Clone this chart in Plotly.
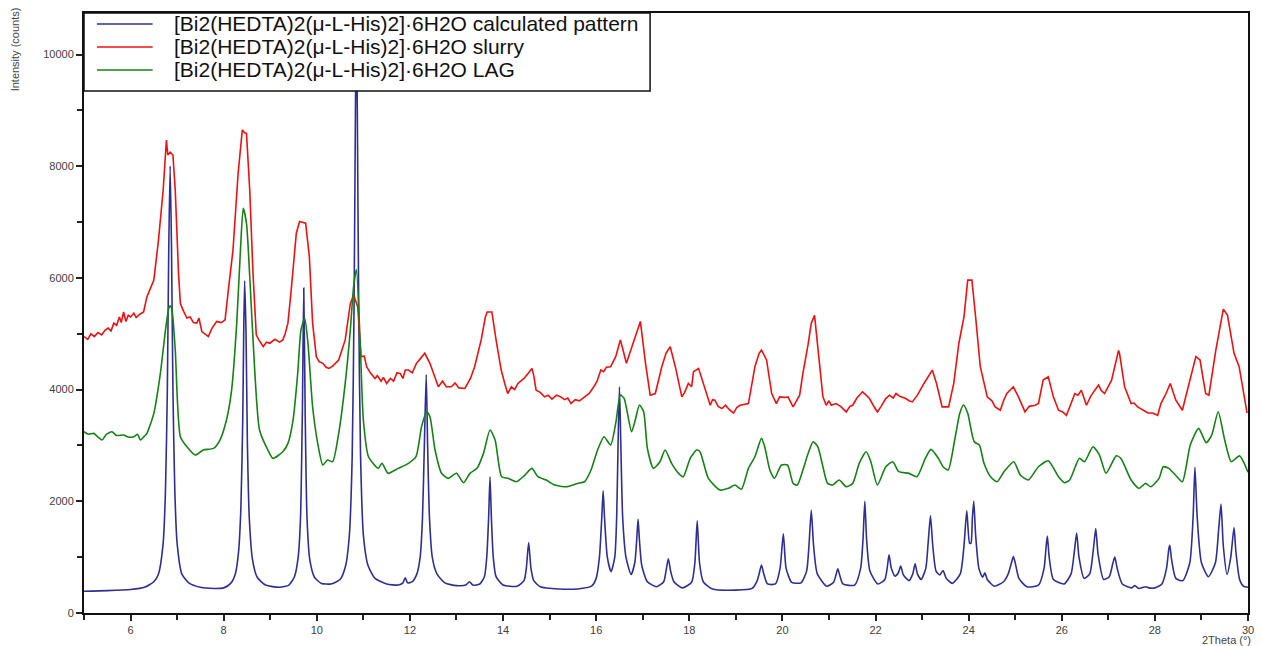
import plotly.graph_objects as go

# ---- data (2Theta in degrees, intensity in counts) ----
calc_pts = [
    (5.0, 390), (5.5, 400), (6.0, 420), (6.3, 460), (6.5, 560), (6.6, 700), (6.7, 1250), (6.75, 2200),
    (6.79, 4000), (6.82, 6500), (6.85, 8000), (6.88, 6500), (6.91, 4000), (6.95, 2200), (7.0, 1250),
    (7.1, 700), (7.25, 540), (7.5, 460), (7.8, 440), (8.0, 450), (8.15, 530), (8.25, 700), (8.32, 1100),
    (8.37, 1900), (8.41, 3500), (8.43, 5000), (8.45, 5950), (8.48, 5000), (8.51, 3000), (8.55, 1700),
    (8.62, 950), (8.72, 640), (8.9, 500), (9.2, 460), (9.4, 500), (9.52, 650), (9.6, 1000), (9.65, 1700),
    (9.69, 3600), (9.72, 5820), (9.75, 3600), (9.79, 1700), (9.85, 950), (9.95, 640), (10.1, 530),
    (10.3, 520), (10.5, 600), (10.62, 850), (10.7, 1400), (10.76, 2800), (10.8, 5500), (10.83, 9000),
    (10.85, 10600), (10.87, 9000), (10.9, 5500), (10.94, 2800), (11.0, 1400), (11.1, 850), (11.25, 620),
    (11.5, 520), (11.75, 500), (11.85, 540), (11.9, 630), (11.95, 540), (12.05, 560), (12.15, 700),
    (12.22, 1000), (12.27, 1700), (12.31, 3000), (12.35, 4270), (12.38, 3000), (12.42, 1700),
    (12.48, 1000), (12.58, 700), (12.75, 540), (13.0, 490), (13.2, 500), (13.28, 560), (13.35, 500),
    (13.5, 520), (13.6, 650), (13.65, 1000), (13.69, 1700), (13.72, 2440), (13.75, 1700), (13.79, 1000),
    (13.85, 650), (14.0, 500), (14.3, 480), (14.45, 580), (14.5, 800), (14.55, 1260), (14.6, 800),
    (14.66, 580), (14.8, 470), (15.2, 430), (15.6, 430), (15.9, 480), (16.0, 620), (16.07, 1000),
    (16.12, 1700), (16.15, 2190), (16.18, 1700), (16.24, 1000), (16.32, 740), (16.4, 1000), (16.44, 1700),
    (16.47, 3000), (16.5, 4050), (16.53, 3000), (16.57, 1700), (16.64, 1000), (16.75, 690), (16.83, 900),
    (16.87, 1300), (16.9, 1680), (16.93, 1300), (16.98, 850), (17.1, 560), (17.3, 470), (17.45, 560),
    (17.5, 750), (17.55, 970), (17.6, 750), (17.67, 560), (17.85, 450), (18.05, 550), (18.12, 900),
    (18.17, 1650), (18.22, 900), (18.3, 560), (18.5, 430), (19.0, 410), (19.35, 440), (19.45, 560),
    (19.5, 700), (19.55, 860), (19.6, 700), (19.68, 520), (19.85, 520), (19.95, 800), (20.02, 1420),
    (20.08, 800), (20.2, 550), (20.4, 540), (20.52, 750), (20.57, 1200), (20.62, 1840), (20.67, 1200),
    (20.75, 700), (20.95, 480), (21.1, 550), (21.15, 680), (21.19, 790), (21.23, 680), (21.3, 520),
    (21.55, 500), (21.68, 800), (21.73, 1300), (21.77, 2000), (21.81, 1300), (21.88, 750), (22.05, 520),
    (22.2, 600), (22.25, 800), (22.29, 1040), (22.34, 800), (22.42, 660), (22.49, 720), (22.54, 840),
    (22.6, 680), (22.72, 580), (22.8, 700), (22.85, 880), (22.9, 700), (22.98, 600), (23.08, 800),
    (23.13, 1250), (23.18, 1740), (23.23, 1200), (23.3, 750), (23.38, 680), (23.45, 760), (23.52, 620),
    (23.65, 530), (23.82, 700), (23.9, 1200), (23.96, 1830), (24.02, 1250), (24.05, 1250), (24.08, 1700),
    (24.11, 2000), (24.15, 1400), (24.22, 800), (24.3, 640), (24.35, 720), (24.4, 600), (24.55, 480),
    (24.75, 560), (24.85, 700), (24.92, 900), (24.96, 1010), (25.0, 900), (25.08, 620), (25.25, 470),
    (25.5, 500), (25.62, 800), (25.66, 1150), (25.69, 1380), (25.73, 1000), (25.82, 600), (26.05, 520),
    (26.2, 700), (26.27, 1100), (26.32, 1430), (26.37, 1000), (26.48, 620), (26.6, 700), (26.68, 1150),
    (26.73, 1510), (26.78, 1050), (26.9, 600), (27.02, 650), (27.1, 900), (27.14, 1000), (27.19, 800),
    (27.3, 520), (27.5, 450), (27.57, 490), (27.65, 440), (27.8, 470), (27.87, 450), (28.0, 450),
    (28.15, 520), (28.25, 800), (28.3, 1150), (28.32, 1210), (28.36, 950), (28.45, 620), (28.6, 580),
    (28.75, 900), (28.82, 1700), (28.86, 2610), (28.91, 1700), (29.0, 900), (29.15, 650), (29.3, 900),
    (29.37, 1500), (29.42, 1950), (29.47, 1200), (29.55, 690), (29.63, 1000), (29.7, 1530), (29.74, 1100),
    (29.82, 600), (29.9, 480), (30.0, 460),
]

slurry_pts = [
    (5.0, 4950), (5.08, 4900), (5.15, 5000), (5.22, 4950), (5.3, 5020), (5.38, 4980), (5.45, 5060),
    (5.52, 5100), (5.58, 5050), (5.64, 5190), (5.7, 5150), (5.76, 5300), (5.8, 5200), (5.85, 5390),
    (5.9, 5220), (5.95, 5330), (6.0, 5300), (6.07, 5370), (6.12, 5290), (6.2, 5350), (6.28, 5390),
    (6.35, 5660), (6.5, 5960), (6.6, 6680), (6.7, 7570), (6.77, 8470), (6.8, 8200), (6.85, 8250),
    (6.91, 8200), (6.96, 7570), (7.03, 6080), (7.07, 5540), (7.14, 5400), (7.21, 5280), (7.28, 5300),
    (7.35, 5200), (7.42, 5190), (7.47, 5280), (7.53, 5040), (7.6, 5000), (7.67, 4950), (7.75, 5100),
    (7.85, 5220), (7.95, 5200), (8.03, 5250), (8.1, 5780), (8.2, 6500), (8.31, 7870), (8.4, 8650),
    (8.45, 8600), (8.49, 8590), (8.56, 7570), (8.63, 6080), (8.7, 4980), (8.75, 4900), (8.85, 4770),
    (8.92, 4850), (8.99, 4830), (9.1, 4900), (9.2, 4850), (9.27, 4890), (9.32, 5000), (9.38, 5190),
    (9.45, 5780), (9.56, 6800), (9.63, 7010), (9.7, 7000), (9.76, 6980), (9.84, 6380), (9.91, 5190),
    (9.99, 4590), (10.05, 4500), (10.13, 4470), (10.2, 4400), (10.26, 4380), (10.34, 4420), (10.47, 4530),
    (10.61, 4890), (10.72, 5540), (10.79, 5690), (10.83, 5600), (10.88, 5480), (10.95, 4590), (11.02, 4600),
    (11.07, 4410), (11.15, 4300), (11.25, 4200), (11.3, 4250), (11.38, 4150), (11.43, 4220), (11.5, 4110),
    (11.58, 4200), (11.65, 4150), (11.72, 4300), (11.79, 4290), (11.85, 4200), (11.9, 4350), (11.97, 4350),
    (12.05, 4300), (12.14, 4470), (12.22, 4550), (12.32, 4650), (12.43, 4470), (12.52, 4250), (12.61, 4050),
    (12.7, 4150), (12.78, 4050), (12.89, 4050), (12.97, 4120), (13.05, 4030), (13.18, 4020), (13.3, 4200),
    (13.39, 4410), (13.53, 4890), (13.62, 5300), (13.66, 5390), (13.76, 5390), (13.85, 4890), (13.96, 4350),
    (14.04, 4100), (14.1, 3930), (14.18, 4050), (14.25, 4000), (14.32, 4110), (14.45, 4200), (14.55, 4300),
    (14.62, 4380), (14.66, 4250), (14.71, 3990), (14.8, 3950), (14.89, 3870), (14.97, 3900), (15.05, 3830),
    (15.15, 3900), (15.24, 3870), (15.32, 3820), (15.39, 3850), (15.46, 3750), (15.55, 3820), (15.64, 3800),
    (15.74, 3870), (15.85, 3930), (15.95, 4050), (16.02, 4150), (16.1, 4350), (16.16, 4320), (16.22, 4400),
    (16.31, 4410), (16.42, 4590), (16.52, 4890), (16.58, 4700), (16.65, 4470), (16.77, 4770), (16.95, 5220),
    (17.06, 4470), (17.16, 3900), (17.27, 3930), (17.41, 4410), (17.5, 4650), (17.59, 4770), (17.7, 4410),
    (17.84, 3870), (17.9, 3950), (17.98, 4110), (18.05, 4050), (18.09, 4320), (18.2, 4380), (18.34, 3990),
    (18.45, 3720), (18.5, 3820), (18.55, 3810), (18.62, 3700), (18.7, 3660), (18.78, 3720), (18.85, 3650),
    (18.95, 3580), (19.02, 3680), (19.09, 3720), (19.18, 3740), (19.27, 3750), (19.41, 4410), (19.5, 4650),
    (19.55, 4710), (19.66, 4530), (19.77, 3930), (19.87, 3750), (19.94, 3870), (20.05, 3860), (20.12, 3870),
    (20.23, 3690), (20.37, 3900), (20.44, 4290), (20.55, 4800), (20.62, 5190), (20.69, 5330), (20.76, 4710),
    (20.87, 3870), (20.94, 3720), (21.0, 3800), (21.05, 3720), (21.15, 3750), (21.25, 3700), (21.37, 3600),
    (21.45, 3700), (21.51, 3720), (21.6, 3850), (21.72, 3960), (21.8, 3900), (21.87, 3840), (21.95, 3720),
    (22.04, 3600), (22.12, 3700), (22.22, 3840), (22.3, 3900), (22.38, 3850), (22.44, 3930), (22.52, 3880),
    (22.65, 3840), (22.72, 3800), (22.79, 3780), (22.9, 3900), (23.04, 4110), (23.15, 4250), (23.22, 4350),
    (23.31, 4110), (23.43, 3690), (23.57, 3690), (23.68, 4110), (23.79, 4830), (23.9, 5300), (23.98, 5960),
    (24.07, 5960), (24.15, 5300), (24.25, 4410), (24.4, 3870), (24.5, 3800), (24.57, 3690), (24.68, 3630),
    (24.75, 3800), (24.82, 3930), (24.96, 4050), (25.07, 3870), (25.21, 3600), (25.3, 3700), (25.43, 3720),
    (25.5, 3750), (25.6, 4170), (25.71, 4230), (25.82, 3870), (25.93, 3630), (26.02, 3600), (26.1, 3540),
    (26.2, 3750), (26.28, 3930), (26.35, 3900), (26.42, 3990), (26.53, 3720), (26.62, 3880), (26.71, 3990),
    (26.79, 4080), (26.85, 3980), (26.92, 3930), (27.07, 4170), (27.17, 4530), (27.22, 4700), (27.24, 4650),
    (27.35, 4050), (27.49, 3750), (27.55, 3760), (27.63, 3690), (27.72, 3640), (27.85, 3580), (27.95, 3580),
    (28.06, 3540), (28.13, 3750), (28.24, 3930), (28.33, 4110), (28.45, 3810), (28.59, 3630), (28.78, 4230),
    (28.88, 4590), (28.97, 4530), (29.09, 3930), (29.16, 3900), (29.31, 4710), (29.47, 5440), (29.56, 5330),
    (29.7, 4650), (29.81, 4410), (29.98, 3580),
]

lag_pts = [
    (5.0, 3246), (5.1, 3200), (5.21, 3216), (5.3, 3150), (5.39, 3097), (5.48, 3200), (5.6, 3246),
    (5.7, 3180), (5.85, 3186), (5.95, 3150), (6.07, 3157), (6.15, 3200), (6.21, 3097), (6.28, 3150),
    (6.35, 3216), (6.5, 3575), (6.64, 4291), (6.75, 5066), (6.82, 5454), (6.85, 5500), (6.89, 5424),
    (6.96, 4708), (7.07, 3157), (7.21, 2977), (7.39, 2828), (7.56, 2918), (7.78, 2948), (7.92, 3097),
    (8.06, 3455), (8.17, 3992), (8.28, 5185), (8.36, 6498), (8.42, 7244), (8.49, 6976), (8.56, 6020),
    (8.67, 4291), (8.77, 3276), (8.95, 2918), (9.06, 2769), (9.27, 2888), (9.38, 3037), (9.49, 3455),
    (9.59, 4291), (9.66, 5066), (9.74, 5275), (9.81, 4828), (9.91, 3693), (10.02, 3037), (10.13, 2649),
    (10.23, 2739), (10.34, 2709), (10.47, 3216), (10.61, 4112), (10.72, 5066), (10.79, 5841),
    (10.85, 6150), (10.93, 4887), (11.0, 3455), (11.11, 2798), (11.32, 2590), (11.4, 2680), (11.53, 2501),
    (11.75, 2590), (11.97, 2680), (12.13, 2798), (12.25, 3335), (12.36, 3604), (12.43, 3514), (12.54, 2918),
    (12.68, 2501), (12.82, 2411), (13.0, 2501), (13.15, 2333), (13.29, 2501), (13.44, 2590), (13.58, 2858),
    (13.72, 3276), (13.83, 3097), (13.97, 2440), (14.11, 2411), (14.29, 2351), (14.47, 2470), (14.62, 2590),
    (14.75, 2440), (14.93, 2380), (15.11, 2291), (15.36, 2260), (15.6, 2320), (15.75, 2350), (15.89, 2560),
    (16.03, 2918), (16.17, 3156), (16.31, 3007), (16.42, 3396), (16.52, 3902), (16.6, 3842), (16.76, 3246),
    (16.84, 3455), (16.93, 3723), (17.02, 3604), (17.1, 2948), (17.23, 2590), (17.37, 2709), (17.48, 2918),
    (17.62, 2680), (17.77, 2501), (17.87, 2440), (18.02, 2769), (18.16, 2918), (18.23, 2888), (18.41, 2411),
    (18.66, 2202), (18.84, 2232), (18.98, 2291), (19.12, 2217), (19.27, 2590), (19.41, 2798), (19.55, 3127),
    (19.62, 2977), (19.73, 2560), (19.83, 2411), (19.98, 2650), (20.11, 2650), (20.23, 2321), (20.32, 2291),
    (20.44, 2560), (20.55, 2850), (20.66, 3067), (20.76, 2977), (20.87, 2619), (20.97, 2321), (21.08, 2291),
    (21.22, 2381), (21.37, 2261), (21.51, 2321), (21.65, 2680), (21.8, 2888), (21.9, 2709), (22.04, 2291),
    (22.22, 2619), (22.37, 2709), (22.5, 2530), (22.72, 2500), (22.89, 2440), (23.07, 2769), (23.19, 2930),
    (23.35, 2769), (23.45, 2619), (23.56, 2560), (23.7, 3097), (23.81, 3575), (23.89, 3723), (23.98, 3575),
    (24.12, 3067), (24.23, 3007), (24.33, 2680), (24.47, 2440), (24.61, 2350), (24.76, 2530), (24.97, 2709),
    (25.11, 2470), (25.28, 2381), (25.5, 2619), (25.71, 2726), (25.93, 2440), (26.06, 2333), (26.17, 2381),
    (26.38, 2769), (26.49, 2709), (26.67, 2977), (26.81, 2828), (26.95, 2501), (27.17, 2813), (27.27, 2769),
    (27.49, 2381), (27.66, 2232), (27.8, 2321), (27.91, 2261), (28.09, 2411), (28.18, 2619), (28.3, 2590),
    (28.44, 2470), (28.59, 2350), (28.76, 3007), (28.94, 3306), (29.1, 3050), (29.22, 3186), (29.36, 3604),
    (29.5, 3097), (29.64, 2709), (29.82, 2813), (30.0, 2520),
]

series_names = [
    "[Bi2(HEDTA)2(\u03bc-L-His)2]\u00b76H2O calculated pattern",
    "[Bi2(HEDTA)2(\u03bc-L-His)2]\u00b76H2O slurry",
    "[Bi2(HEDTA)2(\u03bc-L-His)2]\u00b76H2O LAG",
]
series_colors = ["#2f2f93", "#ee1111", "#168216"]
series_shapes = ["spline", "linear", "spline"]
x_tick_vals = [6, 8, 10, 12, 14, 16, 18, 20, 22, 24, 26, 28, 30]
y_tick_vals = [0, 2000, 4000, 6000, 8000, 10000]

# ---- figure ----
W, H = 1261, 646
L, R, T, B = 84, 7, 13, 33
PW, PH = W - L - R, H - T - B
FONT = "Liberation Sans, Arial, sans-serif"


def px_x(px):
    return (px - L) / PW


def px_y(py):
    return (H - B - py) / PH


fig = go.Figure()
for pts, name, col, shp in zip([calc_pts, slurry_pts, lag_pts], series_names, series_colors, series_shapes):
    line = dict(color=col, width=1.6, shape=shp)
    if shp == "spline":
        line["smoothing"] = 0.6
    fig.add_trace(go.Scatter(
        x=[p[0] for p in pts], y=[p[1] for p in pts], mode="lines", name=name,
        line=line, showlegend=False,
    ))

axis_font = dict(family=FONT, size=11, color="#404040")
fig.update_xaxes(
    range=[5, 30], tickvals=x_tick_vals, ticks="outside", ticklen=6, tickwidth=2, tickcolor="#222",
    showline=True, linecolor="#111", linewidth=2, mirror=True, showgrid=False, zeroline=False,
    tickfont=axis_font, minor=dict(dtick=1, tick0=5, ticks="outside", ticklen=5, tickwidth=2, tickcolor="#222"),
)
fig.update_yaxes(
    range=[0, 10743], tickvals=y_tick_vals, tickformat="d", ticks="outside", ticklen=6, tickwidth=2,
    tickcolor="#222", showline=True, linecolor="#111", linewidth=2, mirror=True, showgrid=False,
    zeroline=False, tickfont=axis_font,
    minor=dict(dtick=1000, tick0=0, ticks="outside", ticklen=5, tickwidth=2, tickcolor="#222"),
)

# legend box drawn in the upper left corner of the plot
shapes = [dict(type="rect", xref="paper", yref="paper", x0=0, x1=px_x(653), y0=px_y(91), y1=1.0,
               fillcolor="white", line=dict(color="#111", width=1.5), layer="above")]
annotations = []
for i, (name, col) in enumerate(zip(series_names, series_colors)):
    yy = px_y(24 + i * 23)
    shapes.append(dict(type="line", xref="paper", yref="paper", x0=px_x(97), x1=px_x(153), y0=yy, y1=yy,
                       line=dict(color=col, width=1.5), layer="above"))
    annotations.append(dict(text=name, xref="paper", yref="paper", x=px_x(172), y=yy, xanchor="left",
                            yanchor="middle", showarrow=False,
                            font=dict(family=FONT, size=21, color="#111")))

annotations.append(dict(text="Intensity (counts)", xref="paper", yref="paper", x=px_x(15), y=px_y(5),
                        xanchor="center", yanchor="top", textangle=-90, showarrow=False,
                        font=dict(family=FONT, size=11, color="#444")))
annotations.append(dict(text="2Theta (\u00b0)", xref="paper", yref="paper", x=px_x(1259), y=px_y(640),
                        xanchor="right", yanchor="middle", showarrow=False,
                        font=dict(family=FONT, size=11, color="#444")))

fig.update_layout(
    width=W, height=H, margin=dict(l=L, r=R, t=T, b=B), paper_bgcolor="white", plot_bgcolor="white",
    showlegend=False, shapes=shapes, annotations=annotations,
)
fig.write_html("out.html")
